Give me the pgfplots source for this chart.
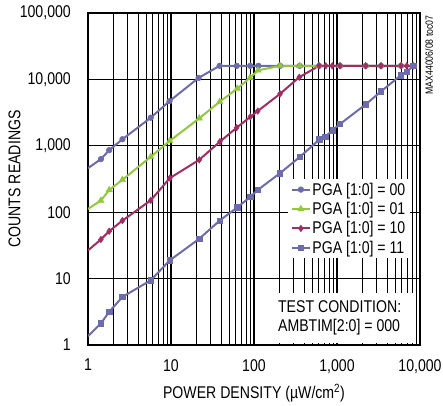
\documentclass[border=0pt]{standalone}
\usepackage{fontspec}
\setmainfont{Liberation Sans}[FakeStretch=0.83]
\usepackage{pgfplots}
\pgfplotsset{compat=1.18}
\definecolor{pgablue}{RGB}{108,108,172}
\definecolor{pgagreen}{RGB}{146,200,60}
\definecolor{pgared}{RGB}{160,45,100}
\newcommand\lblfont{\fontsize{17}{19.5}\selectfont}

\begin{document}
\begin{tikzpicture}
\begin{axis}[
    at={(0,0)}, anchor=south west,
    scale only axis, width=332pt, height=332pt,
    xmode=log, ymode=log,
    xmin=1, xmax=10000, ymin=1, ymax=100000,
    xtick={1,10,100,1000,10000},
    xticklabels={1,10,100,{1,000},{10,000}},
    ytick={1,10,100,1000,10000,100000},
    yticklabels={1,10,100,{1,000},{10,000},{100,000}},
    major tick length=0pt, minor tick length=0pt,
    xmajorgrids, xminorgrids, ymajorgrids,
    major grid style={black, line width=1.1pt},
    minor grid style={black, line width=0.8pt},
    axis line style={line width=2.6pt},
    tick label style={font=\lblfont, inner sep=0pt},
    xticklabel style={anchor=north, yshift=-14pt},
    yticklabel style={anchor=east, xshift=-17pt},
    legend style={at={(rel axis cs:0.97,0.5)}, anchor=north east,
        fill=white, draw=none, font=\lblfont,
        inner xsep=3pt, inner ysep=2pt, row sep=2.6pt,
        nodes={inner sep=1.5pt}},
    legend cell align=left,
    legend image code/.code={\draw[mark repeat=2,mark phase=2]
        plot coordinates {(0pt,0pt) (9pt,0pt) (18pt,0pt)};},
    every axis plot/.append style={line width=2pt, mark phase=2, mark repeat=1,
        mark options={solid, line width=0.6pt}},
]
% white box behind the test condition note
\fill[white] (rel axis cs:0.563,0.006) rectangle (rel axis cs:0.988,0.157);

\addplot[color=pgablue, mark=*, mark size=2.8pt] coordinates {
    (1,460) (1.43,630) (1.80,860) (2.6,1256) (5.7,2650) (9.6,4710)
    (21.5,10540) (38.5,16000) (62,16000) (90,16000) (113,16000)
    (206,16000) (355,16000) (610,16000) (1087,16000) (2218,16000)
    (3390,16000) (5900,16000) (8300,16000)
};
\addlegendentry{PGA [1:0] = 00}

\addplot[color=pgagreen, mark=triangle*, mark size=3.6pt] coordinates {
    (1,112) (1.43,150) (1.80,216) (2.6,308) (5.7,682) (9.65,1184)
    (21.9,2594) (38.6,4600) (62.9,7300) (89.5,10540) (112,13700)
    (206,16000) (355,16000) (610,16000) (1087,16000) (2218,16000)
    (3390,16000) (5900,16000) (8300,16000)
};
\addlegendentry{PGA [1:0] = 01}

\addplot[color=pgared, mark=diamond*, mark size=3.2pt] coordinates {
    (1,26.6) (1.43,38.8) (1.80,51.7) (2.6,74.8) (5.7,151) (9.7,327)
    (21.9,615) (38.9,1156) (61.8,1875) (90.2,2730) (111,3336)
    (206,6065) (351,10790) (607,16000) (731,16000) (878,16000)
    (1087,16000) (2218,16000) (3390,16000) (5904,16000) (6920,16000)
    (8300,16000)
};
\addlegendentry{PGA [1:0] = 10}

\addplot[color=pgablue, mark=square*, mark size=2.7pt] coordinates {
    (1,1.36) (1.43,2.11) (1.80,3.16) (2.6,5.3) (5.7,9.43) (9.65,18.8)
    (21.9,39.8) (38.6,74.8) (62.9,118) (90,170) (111,216) (206,388)
    (358,682) (615,1248) (723,1369) (883,1714) (1087,2130) (2218,4205)
    (3390,6590) (5900,11600) (6920,13130) (8300,16000)
};
\addlegendentry{PGA [1:0] = 11}

\node[anchor=west, inner sep=0pt, font=\lblfont] at (rel axis cs:0.572,0.115) {TEST CONDITION:};
\node[anchor=west, inner sep=0pt, font=\lblfont] at (rel axis cs:0.572,0.055) {AMBTIM[2:0] = 000};
\end{axis}

\node[rotate=90, font=\lblfont] at (-73.5pt,166pt) {COUNTS READINGS};
\node[font=\lblfont] at (166pt,-48pt) {POWER DENSITY (µW/cm\textsuperscript{2})};
\node[rotate=90, font=\fontsize{10.5}{12}\selectfont] at (341pt,290pt) {MAX44006/08 toc07};

\pgfresetboundingbox
\useasboundingbox (-88pt,-60pt) rectangle (355pt,345pt);
\end{tikzpicture}
\end{document}
